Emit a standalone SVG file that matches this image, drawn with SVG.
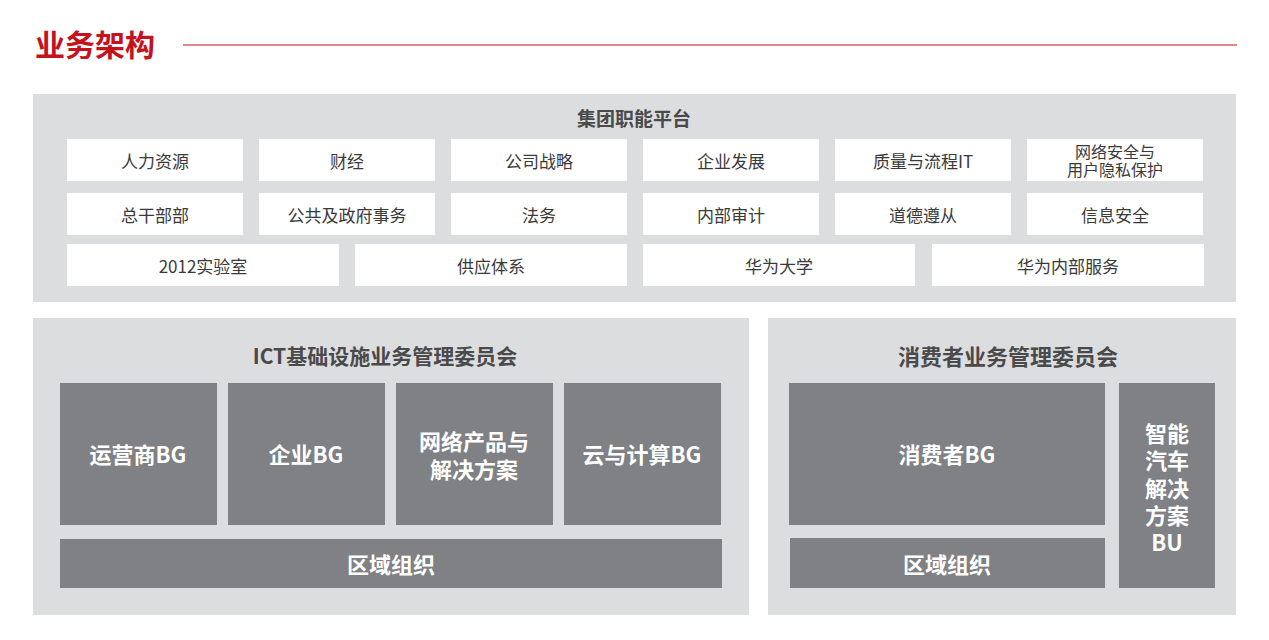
<svg xmlns="http://www.w3.org/2000/svg" width="1269" height="640" viewBox="0 0 1269 640">
<style>
text{font-family:"Noto Sans CJK SC","Liberation Sans",sans-serif;text-anchor:middle;dominant-baseline:central}
.panel{fill:#dcdddf}
.wbox{fill:#ffffff}
.dbox{fill:#808184}
.wt{font-size:17px;fill:#3a3a3a}
.wt2{font-size:16px;fill:#3a3a3a}
.pt{font-size:19px;font-weight:bold;fill:#4a4a4a}
.ct{font-size:21px;font-weight:bold;fill:#4a4a4a}
.dt{font-size:22px;font-weight:bold;fill:#ffffff}
</style>
<rect width="1269" height="640" fill="#ffffff"/>
<g id="header">
<text x="95" y="43" style="font-size:30px;font-weight:bold;fill:#c5121d">业务架构</text>
<line x1="183" y1="45" x2="1237" y2="45" stroke="#c5121d" stroke-width="1.2"/>
</g>
<g id="group-platform">
<rect class="panel" x="33" y="94" width="1203" height="208"/>
<text class="pt" x="634" y="117">集团职能平台</text>
</g>
<g id="n-hr"><rect class="wbox" x="67" y="139" width="176" height="42"/><text class="wt" x="155" y="160">人力资源</text></g>
<g id="n-finance"><rect class="wbox" x="259" y="139" width="176" height="42"/><text class="wt" x="347" y="160">财经</text></g>
<g id="n-strategy"><rect class="wbox" x="451" y="139" width="176" height="42"/><text class="wt" x="539" y="160">公司战略</text></g>
<g id="n-dev"><rect class="wbox" x="643" y="139" width="176" height="42"/><text class="wt" x="731" y="160">企业发展</text></g>
<g id="n-quality"><rect class="wbox" x="835" y="139" width="176" height="42"/><text class="wt" x="923" y="160">质量与流程IT</text></g>
<g id="n-security"><rect class="wbox" x="1027" y="139" width="176" height="42"/><text class="wt2" x="1115" y="151">网络安全与<tspan x="1115" dy="18">用户隐私保护</tspan></text></g>
<g id="n-office"><rect class="wbox" x="67" y="193" width="176" height="42"/><text class="wt" x="155" y="214">总干部部</text></g>
<g id="n-public"><rect class="wbox" x="259" y="193" width="176" height="42"/><text class="wt" x="347" y="214">公共及政府事务</text></g>
<g id="n-legal"><rect class="wbox" x="451" y="193" width="176" height="42"/><text class="wt" x="539" y="214">法务</text></g>
<g id="n-audit"><rect class="wbox" x="643" y="193" width="176" height="42"/><text class="wt" x="731" y="214">内部审计</text></g>
<g id="n-ethics"><rect class="wbox" x="835" y="193" width="176" height="42"/><text class="wt" x="923" y="214">道德遵从</text></g>
<g id="n-infosec"><rect class="wbox" x="1027" y="193" width="176" height="42"/><text class="wt" x="1115" y="214">信息安全</text></g>
<g id="n-2012"><rect class="wbox" x="67" y="244" width="272" height="42"/><text class="wt" x="203" y="265">2012实验室</text></g>
<g id="n-supply"><rect class="wbox" x="355" y="244" width="272" height="42"/><text class="wt" x="491" y="265">供应体系</text></g>
<g id="n-univ"><rect class="wbox" x="643" y="244" width="272" height="42"/><text class="wt" x="779" y="265">华为大学</text></g>
<g id="n-internal"><rect class="wbox" x="932" y="244" width="272" height="42"/><text class="wt" x="1068" y="265">华为内部服务</text></g>
<g id="group-ict">
<rect class="panel" x="33" y="318" width="716" height="297"/>
<text class="ct" x="385" y="355">ICT基础设施业务管理委员会</text>
</g>
<g id="n-carrier"><rect class="dbox" x="60" y="383" width="157" height="142"/><text class="dt" x="138" y="453">运营商BG</text></g>
<g id="n-enterprise"><rect class="dbox" x="228" y="383" width="157" height="142"/><text class="dt" x="306" y="453">企业BG</text></g>
<g id="n-network"><rect class="dbox" x="396" y="383" width="157" height="142"/><text class="dt" x="474" y="440">网络产品与<tspan x="474" dy="28">解决方案</tspan></text></g>
<g id="n-cloud"><rect class="dbox" x="564" y="383" width="157" height="142"/><text class="dt" x="642" y="453">云与计算BG</text></g>
<g id="n-region1"><rect class="dbox" x="60" y="539" width="662" height="49"/><text class="dt" x="391" y="563">区域组织</text></g>
<g id="group-consumer">
<rect class="panel" x="768" y="318" width="468" height="297"/>
<text class="ct" x="1008" y="355" style="font-size:22px">消费者业务管理委员会</text>
</g>
<g id="n-consumerbg"><rect class="dbox" x="789" y="383" width="316" height="142"/><text class="dt" x="947" y="453">消费者BG</text></g>
<g id="n-region2"><rect class="dbox" x="790" y="538" width="315" height="50"/><text class="dt" x="947" y="563">区域组织</text></g>
<g id="n-car"><rect class="dbox" x="1119" y="383" width="96" height="205"/>
<text class="dt" x="1167" y="432">智能<tspan x="1167" dy="27">汽车</tspan><tspan x="1167" dy="28">解决</tspan><tspan x="1167" dy="27">方案</tspan><tspan x="1167" dy="27">BU</tspan></text></g>
<g id="connectors"></g>
</svg>
